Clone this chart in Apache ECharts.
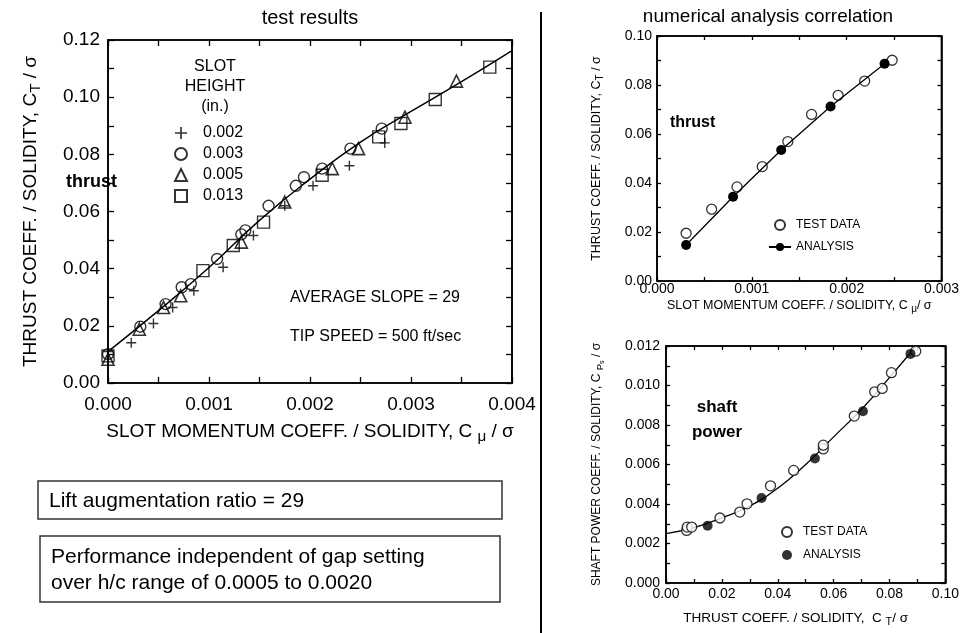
<!DOCTYPE html>
<html>
<head>
<meta charset="utf-8">
<script src="https://cdn.jsdelivr.net/npm/echarts@6/dist/echarts.min.js"></script>
<style>
  html, body { margin: 0; height: 100%; background: #fff; }
  #chart { width: 962px; height: 633px; }
</style>
</head>
<body>
<div id="chart"></div>
<script>
  // left panel: test results, thrust vs slot momentum, by slot height (in.)
  const h002X = [0, 0.00023, 0.00045, 0.00064, 0.00085, 0.00114, 0.00144, 0.00175, 0.00203, 0.00239, 0.00274];
  const h002Y = [0.011, 0.0141, 0.0208, 0.0264, 0.0323, 0.0405, 0.0516, 0.062, 0.069, 0.076, 0.084];
  const h003X = [0, 0.00032, 0.00057, 0.00073, 0.00082, 0.00108, 0.00132, 0.00136, 0.00159, 0.00186, 0.00194, 0.00212, 0.0024, 0.00271];
  const h003Y = [0.0101, 0.0197, 0.0276, 0.0335, 0.0346, 0.0434, 0.052, 0.0534, 0.062, 0.069, 0.072, 0.075, 0.082, 0.089];
  const h005X = [0, 0.00031, 0.00055, 0.00072, 0.00132, 0.00175, 0.00222, 0.00248, 0.00294, 0.00345];
  const h005Y = [0.0083, 0.0188, 0.0264, 0.0305, 0.0493, 0.0633, 0.075, 0.082, 0.093, 0.1056];
  const h013X = [0, 0.00094, 0.00124, 0.00154, 0.00212, 0.00268, 0.0029, 0.00324, 0.00378];
  const h013Y = [0.0095, 0.0393, 0.0481, 0.0563, 0.0727, 0.0861, 0.0908, 0.0992, 0.1105];
  const fitLX = [0, 0.0005, 0.001, 0.0015, 0.002, 0.0025, 0.003, 0.0035, 0.004];
  const fitLY = [0.011, 0.0253, 0.0404, 0.0569, 0.0713, 0.0843, 0.095, 0.1054, 0.1163];

  // right top: thrust correlation
  const thrTestX = [0.000307, 0.000576, 0.000844, 0.00111, 0.00138, 0.00163, 0.00191, 0.00219, 0.00248];
  const thrTestY = [0.0195, 0.0293, 0.0384, 0.0467, 0.0569, 0.068, 0.0758, 0.0816, 0.0901];
  const thrAnaX = [0.000307, 0.000802, 0.00131, 0.00183, 0.0024];
  const thrAnaY = [0.0147, 0.0344, 0.0535, 0.0712, 0.0887];

  // right bottom: shaft power correlation
  const pwrTestX = [0.0074, 0.0076, 0.0092, 0.0193, 0.0264, 0.029, 0.0374, 0.0457, 0.0563, 0.0563, 0.0674, 0.0747, 0.0774, 0.0807, 0.0894];
  const pwrTestY = [0.00266, 0.00283, 0.00283, 0.00329, 0.00359, 0.00401, 0.00492, 0.0057, 0.00679, 0.00698, 0.00845, 0.00968, 0.00985, 0.01065, 0.01174];
  const pwrAnaX = [0.0149, 0.0342, 0.0533, 0.0705, 0.0875];
  const pwrAnaY = [0.0029, 0.0043, 0.0063, 0.0087, 0.0116];
  const fitPX = [0, 0.01, 0.02, 0.03, 0.04, 0.05, 0.06, 0.07, 0.08, 0.0895];
  const fitPY = [0.0025, 0.0028, 0.0033, 0.0039, 0.0048, 0.006, 0.0074, 0.0088, 0.0104, 0.012];

  const FONT = '"Liberation Sans", Arial, Helvetica, sans-serif';
  const pts = (xs, ys) => xs.map((x, i) => [x, ys[i]]);
  const plus = 'path://M4.3,0H5.7V4.3H10V5.7H5.7V10H4.3V5.7H0V4.3H4.3Z';
  const open = {color: '#fff', borderColor: '#000', borderWidth: 1.3};
  const hollow = 'rgba(255,255,255,0)';

  const chart = echarts.init(document.getElementById('chart'), null, {renderer: 'canvas'});

  // ticks at every half step (inside), labels only on whole steps
  function ax(grid, max, step, digits, fs, margin, tickLen, pos) {
    const half = step / 2;
    const main = pos === 'bottom' || pos === 'left';
    return {
      type: 'value', gridIndex: grid, position: pos, min: 0, max: max, interval: half,
      axisLine: {show: true, onZero: false, lineStyle: {color: '#000', width: 1.6}},
      axisTick: {show: true, inside: true, length: tickLen, lineStyle: {color: '#000', width: 1.3}},
      splitLine: {show: false},
      axisLabel: {show: main, margin: margin, color: '#000', fontSize: fs, fontFamily: FONT,
        formatter: v => (Math.round(v / half) % 2 === 0 ? v.toFixed(digits) : '')}
    };
  }

  const nameRich = (fs) => ({
    s: {fontSize: fs * 0.8, fontFamily: FONT, color: '#000', padding: [fs * 0.55, 0, 0, 0]},
    ss: {fontSize: fs * 0.6, fontFamily: FONT, color: '#000', padding: [fs * 0.9, 0, 0, 0]}
  });

  const xAxes = [
    ax(0, 0.004, 0.001, 3, 19, 12, 6, 'bottom'),
    ax(0, 0.004, 0.001, 3, 19, 12, 6, 'top'),
    ax(1, 0.003, 0.001, 3, 14, 1, 4, 'bottom'),
    ax(1, 0.003, 0.001, 3, 14, 1, 4, 'top'),
    ax(2, 0.1, 0.02, 2, 14, 4, 4, 'bottom'),
    ax(2, 0.1, 0.02, 2, 14, 4, 4, 'top')
  ];
  const yAxes = [
    ax(0, 0.12, 0.02, 2, 19, 8, 6, 'left'),
    ax(0, 0.12, 0.02, 2, 19, 8, 6, 'right'),
    ax(1, 0.1, 0.02, 2, 14, 5, 4, 'left'),
    ax(1, 0.1, 0.02, 2, 14, 5, 4, 'right'),
    ax(2, 0.012, 0.002, 3, 14, 6, 4, 'left'),
    ax(2, 0.012, 0.002, 3, 14, 6, 4, 'right')
  ];

  function axName(a, text, fs, gap, shift) {
    Object.assign(a, {
      name: text, nameLocation: 'middle', nameGap: gap,
      nameTextStyle: {fontSize: fs, fontFamily: FONT, color: '#000', rich: nameRich(fs),
        padding: shift ? [0, shift, 0, 0] : 0}
    });
  }
  axName(xAxes[0], 'SLOT MOMENTUM COEFF. / SOLIDITY, C {s|μ} / σ', 19, 36);
  axName(yAxes[0], 'THRUST COEFF. / SOLIDITY, C{s|T} / σ', 19, 65);
  axName(xAxes[2], 'SLOT MOMENTUM COEFF. / SOLIDITY, C {s|μ}/ σ', 12.5, 16);
  axName(yAxes[2], 'THRUST COEFF. / SOLIDITY, C{s|T} / σ', 12.5, 52);
  axName(xAxes[4], 'THRUST COEFF. / SOLIDITY,  C {s|T}/ σ', 13.5, 26, 20);
  axName(yAxes[4], 'SHAFT POWER COEFF. / SOLIDITY, C {s|P}{ss|s} / σ', 12, 60);

  const legendText = (fs, padLeft) => ({fontSize: fs, fontFamily: FONT, color: '#000', padding: [0, 0, 0, padLeft]});

  const option = {
    backgroundColor: '#fff',
    animation: false,
    grid: [
      {left: 108, top: 40, width: 404, height: 343, show: true, borderColor: '#000', borderWidth: 1.6},
      {left: 657, top: 36, width: 287, height: 245, show: true, borderColor: '#000', borderWidth: 1.6},
      {left: 666, top: 346, width: 280, height: 237, show: true, borderColor: '#000', borderWidth: 1.6}
    ],
    xAxis: xAxes,
    yAxis: yAxes,
    legend: [
      {data: ['0.002', '0.003', '0.005', '0.013'], orient: 'vertical', left: 169, top: 120,
        itemWidth: 12, itemHeight: 12, itemGap: 5, selectedMode: false, textStyle: legendText(16, 11)},
      {data: ['TEST DATA', 'ANALYSIS'], orient: 'vertical', left: 763, top: 214,
        itemWidth: 22, itemHeight: 10, itemGap: 10, selectedMode: false, textStyle: legendText(12, 0)},
      {data: ['TEST DATA ', 'ANALYSIS '], orient: 'vertical', left: 776, top: 521,
        itemWidth: 22, itemHeight: 10, itemGap: 11, selectedMode: false, textStyle: legendText(12, 0)}
    ],
    graphic: [
      {type: 'line', shape: {x1: 541, y1: 12, x2: 541, y2: 633}, style: {stroke: '#000', lineWidth: 2}},
      {type: 'text', x: 310, y: 18, style: {text: 'test results', font: '20px ' + FONT, fill: '#000', align: 'center', verticalAlign: 'middle'}},
      {type: 'text', x: 768, y: 17, style: {text: 'numerical analysis correlation', font: '19px ' + FONT, fill: '#000', align: 'center', verticalAlign: 'middle'}},
      {type: 'text', x: 66, y: 182, style: {text: 'thrust', font: 'bold 18px ' + FONT, fill: '#000', verticalAlign: 'middle'}},
      {type: 'text', x: 215, y: 87, style: {text: 'SLOT\nHEIGHT\n(in.)', font: '16px ' + FONT, lineHeight: 20, fill: '#000', align: 'center', verticalAlign: 'middle'}},
      {type: 'text', x: 290, y: 298, style: {text: 'AVERAGE SLOPE = 29', font: '16px ' + FONT, fill: '#000', verticalAlign: 'middle'}},
      {type: 'text', x: 290, y: 337, style: {text: 'TIP SPEED = 500 ft/sec', font: '16px ' + FONT, fill: '#000', verticalAlign: 'middle'}},
      {type: 'rect', shape: {x: 38, y: 481, width: 464, height: 38}, style: {fill: '#fff', stroke: '#333', lineWidth: 1.5}},
      {type: 'text', x: 49, y: 501, style: {text: 'Lift augmentation ratio = 29', font: '21px ' + FONT, fill: '#000', verticalAlign: 'middle'}},
      {type: 'rect', shape: {x: 40, y: 536, width: 460, height: 66}, style: {fill: '#fff', stroke: '#333', lineWidth: 1.5}},
      {type: 'text', x: 51, y: 570, style: {text: 'Performance independent of gap setting\nover h/c range of 0.0005 to 0.0020', font: '21px ' + FONT, lineHeight: 26, fill: '#000', verticalAlign: 'middle'}},
      {type: 'text', x: 670, y: 123, style: {text: 'thrust', font: 'bold 16px ' + FONT, fill: '#000', verticalAlign: 'middle'}},
      {type: 'text', x: 717, y: 420, style: {text: 'shaft\npower', font: 'bold 17px ' + FONT, lineHeight: 25, fill: '#000', align: 'center', verticalAlign: 'middle'}}
    ],
    series: [
      {name: 'fitL', type: 'line', xAxisIndex: 0, yAxisIndex: 0, data: pts(fitLX, fitLY), smooth: true,
        showSymbol: false, lineStyle: {color: '#000', width: 1.5}, z: 1},
      {name: '0.002', type: 'scatter', xAxisIndex: 0, yAxisIndex: 0, data: pts(h002X, h002Y),
        symbol: plus, symbolSize: 10, itemStyle: {color: '#000'}},
      {name: '0.003', type: 'scatter', xAxisIndex: 0, yAxisIndex: 0, data: pts(h003X, h003Y),
        symbol: 'circle', symbolSize: 11, itemStyle: {color: hollow, borderColor: '#000', borderWidth: 1.4}},
      {name: '0.005', type: 'scatter', xAxisIndex: 0, yAxisIndex: 0, data: pts(h005X, h005Y),
        symbol: 'triangle', symbolSize: 12, itemStyle: {color: hollow, borderColor: '#000', borderWidth: 1.6}},
      {name: '0.013', type: 'scatter', xAxisIndex: 0, yAxisIndex: 0, data: pts(h013X, h013Y),
        symbol: 'rect', symbolSize: 12, itemStyle: {color: hollow, borderColor: '#000', borderWidth: 1.4}},

      {name: 'ANALYSIS', type: 'line', xAxisIndex: 2, yAxisIndex: 2, data: pts(thrAnaX, thrAnaY),
        symbol: 'circle', symbolSize: 10, itemStyle: {color: '#000'}, lineStyle: {color: '#000', width: 1.3}},
      {name: 'TEST DATA', type: 'scatter', xAxisIndex: 2, yAxisIndex: 2, data: pts(thrTestX, thrTestY),
        symbol: 'circle', symbolSize: 10, itemStyle: open},

      {name: 'fitP', type: 'line', xAxisIndex: 4, yAxisIndex: 4, data: pts(fitPX, fitPY), smooth: true,
        showSymbol: false, lineStyle: {color: '#000', width: 1.3}, z: 1},
      {name: 'TEST DATA ', type: 'scatter', xAxisIndex: 4, yAxisIndex: 4, data: pts(pwrTestX, pwrTestY),
        symbol: 'circle', symbolSize: 10, itemStyle: open},
      {name: 'ANALYSIS ', type: 'scatter', xAxisIndex: 4, yAxisIndex: 4, data: pts(pwrAnaX, pwrAnaY),
        symbol: 'circle', symbolSize: 10, itemStyle: {color: '#000'}}
    ]
  };

  chart.setOption(option);
</script>
</body>
</html>
